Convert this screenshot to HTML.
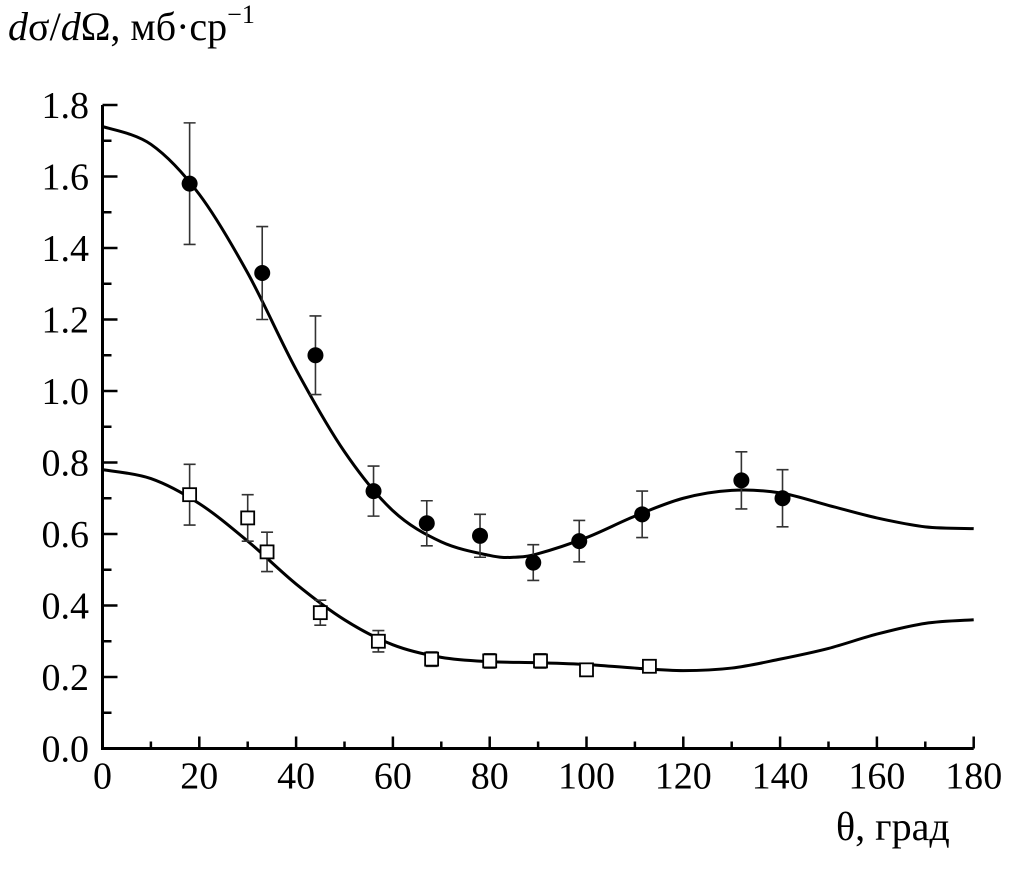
<!DOCTYPE html>
<html><head><meta charset="utf-8"><style>
body{margin:0;background:#fff;}
svg text{font-family:"Liberation Serif","DejaVu Serif",serif;fill:#000;}
</style></head><body>
<svg id="c" width="1010" height="874" xmlns="http://www.w3.org/2000/svg">
<text x="8" y="40" font-size="40"><tspan font-style="italic">d</tspan>σ/<tspan font-style="italic">d</tspan>Ω, мб·ср<tspan font-size="26" dy="-17">−1</tspan></text>
<text x="836" y="840" font-size="40">θ, град</text>
<g id="g"></g>
</svg>
<script>
const xTicks=[0,20,40,60,80,100,120,140,160,180];
const yTicks=[0.0,0.2,0.4,0.6,0.8,1.0,1.2,1.4,1.6,1.8];
const fitX=[0,10,20,30,40,50,60,70,80,85,90,100,110,120,130,140,150,160,170,180];
const fitUpper=[1.74,1.69,1.55,1.33,1.06,0.83,0.665,0.578,0.54,0.535,0.545,0.59,0.65,0.70,0.722,0.715,0.68,0.645,0.62,0.615];
const fitLowerX=[0,10,20,30,40,50,60,70,80,90,100,110,120,130,140,150,160,170,180];
const fitLower=[0.78,0.755,0.685,0.58,0.46,0.36,0.29,0.255,0.243,0.24,0.235,0.225,0.218,0.225,0.25,0.28,0.32,0.35,0.36];
const circX=[18,33,44,56,67,78,89,98.5,111.5,132,140.5];
const circY=[1.58,1.33,1.10,0.72,0.63,0.595,0.52,0.58,0.655,0.75,0.70];
const circErr=[0.17,0.13,0.11,0.07,0.063,0.06,0.05,0.058,0.065,0.08,0.08];
const sqX=[18,30,34,45,57,68,80,90.5,100,113];
const sqY=[0.71,0.645,0.55,0.38,0.30,0.25,0.245,0.245,0.22,0.23];
const sqErr=[0.085,0.065,0.055,0.035,0.03,0.02,0.02,0.02,0.015,0.015];
const X0=102.5,XS=4.84,Y0=748.5,YS=357.5;
const sx=v=>X0+v*XS, sy=v=>Y0-v*YS;
const g=document.getElementById('g');const NS='http://www.w3.org/2000/svg';
function mk(t,a){const e=document.createElementNS(NS,t);for(const k in a)e.setAttribute(k,a[k]);g.appendChild(e);return e;}
let e;
e=mk('path',{d:`M${sx(0)},${sy(1.8)}V${Y0}H${sx(180)}`,fill:'none',stroke:'#000','stroke-width':3});


xTicks.forEach((t,i)=>{
 e=mk('line',{x1:sx(t),x2:sx(t),y1:Y0,y2:Y0-12,stroke:'#000','stroke-width':2.5});
 
 
 if(i<xTicks.length-1){e=mk('line',{x1:sx(t+10),x2:sx(t+10),y1:Y0,y2:Y0-7,stroke:'#000','stroke-width':2.5});
 
 }
 e=mk('text',{x:sx(t),y:Y0+40,'font-size':38,'text-anchor':'middle'});e.textContent=t;
 
 
});
yTicks.forEach((t,i)=>{
 e=mk('line',{x1:X0,x2:X0+15,y1:sy(t),y2:sy(t),stroke:'#000','stroke-width':2.5});
 
 
 if(i<yTicks.length-1){e=mk('line',{x1:X0,x2:X0+9,y1:sy(t+0.1),y2:sy(t+0.1),stroke:'#000','stroke-width':2.5});
 
 }
 e=mk('text',{x:89,y:sy(t)+13,'font-size':38,'text-anchor':'end'});e.textContent=t.toFixed(1);
 
 
});
function curve(xs,ys){const p=xs.map((x,i)=>[sx(x),sy(ys[i])]);let d=`M${p[0][0]},${p[0][1]}`;
 for(let i=0;i<p.length-1;i++){const a=p[Math.max(0,i-1)],b=p[i],c=p[i+1],f=p[Math.min(p.length-1,i+2)];
 d+=`C${b[0]+(c[0]-a[0])/6},${b[1]+(c[1]-a[1])/6} ${c[0]-(f[0]-b[0])/6},${c[1]-(f[1]-b[1])/6} ${c[0]},${c[1]}`;}return d;}
e=mk('path',{d:curve(fitX,fitUpper),fill:'none',stroke:'#000','stroke-width':3});


e=mk('path',{d:curve(fitLowerX,fitLower),fill:'none',stroke:'#000','stroke-width':3});


function err(x,y,d){const X=sx(x),t=sy(y+d),b=sy(y-d);
 e=mk('path',{d:`M${X},${t}V${b}M${X-6},${t}H${X+6}M${X-6},${b}H${X+6}`,stroke:'#333','stroke-width':1.6,fill:'none'});
 
 }
circX.forEach((x,i)=>{err(x,circY[i],circErr[i]);
 e=mk('circle',{cx:sx(x),cy:sy(circY[i]),r:8,fill:'#000'});
 
 });
sqX.forEach((x,i)=>{err(x,sqY[i],sqErr[i]);
 e=mk('rect',{x:sx(x)-6.5,y:sy(sqY[i])-6.5,width:13,height:13,fill:'#fff',stroke:'#000','stroke-width':1.8});
 
 });
</script>
</body></html>
